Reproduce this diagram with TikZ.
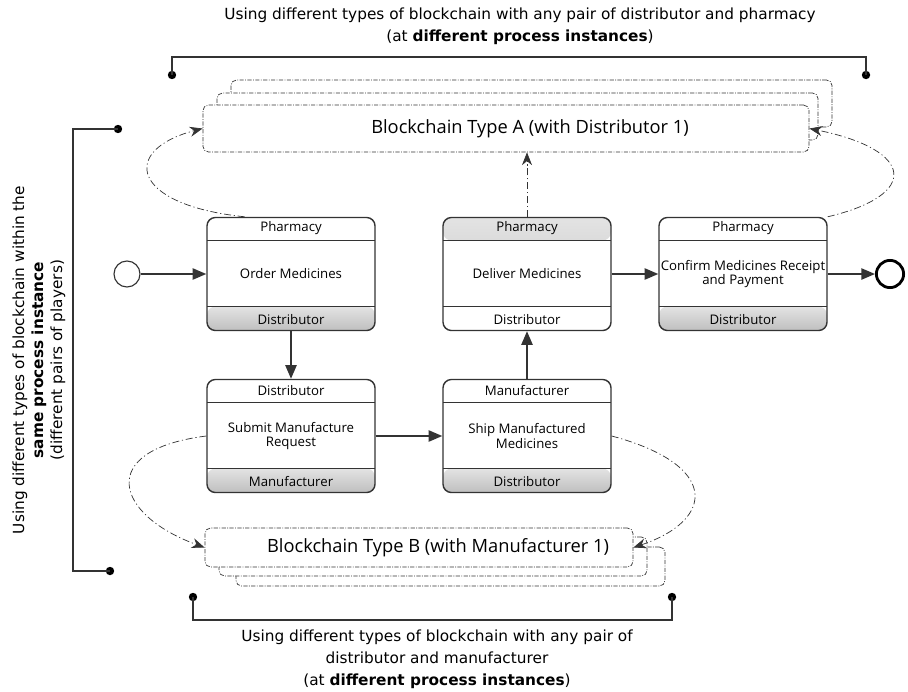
\documentclass[tikz,border=0pt]{standalone}
\usepackage{fontspec}
\setmainfont{DejaVu Sans}
\newfontfamily\taskfont{Open Sans}
\usetikzlibrary{arrows.meta,positioning}

\definecolor{ink}{HTML}{333333}
\tikzset{
	band0/.style={fill=white},
	band1/.style={top color=gray!22, bottom color=gray!50},
	task/.style 2 args={draw=ink, line width=1pt, rounded corners=6pt, fill=white,
		minimum width=4.2cm, minimum height=2.825cm, align=center, inner sep=1pt,
		font=\taskfont\fontsize{9.4}{10.5}\selectfont,
		path picture={
			\path[#1] (path picture bounding box.north west) rectangle ([yshift=-0.575cm]path picture bounding box.north east);
			\path[#2] (path picture bounding box.south west) rectangle ([yshift=0.6cm]path picture bounding box.south east);
			\draw[line width=0.8pt] ([yshift=-0.575cm]path picture bounding box.north west) -- ([yshift=-0.575cm]path picture bounding box.north east);
			\draw[line width=0.8pt] ([yshift=0.6cm]path picture bounding box.south west) -- ([yshift=0.6cm]path picture bounding box.south east);
		}},
	lane/.style={font=\taskfont\fontsize{9.4}{10.5}\selectfont, inner sep=0pt},
	flow/.style={draw=ink, line width=1.2pt, -{Triangle[length=3.4mm,width=2.8mm]}},
	link/.style={draw=ink, line width=0.5pt, dash pattern=on 5pt off 2pt on 0.8pt off 2pt, -{Stealth[length=3.2mm,width=2.5mm]}},
	chain/.style={draw=ink, line width=0.5pt, dash pattern=on 3pt off 1pt on 0.6pt off 1pt, rounded corners=4pt, fill=white},
	chaintext/.style={font=\taskfont\fontsize{13}{15}\selectfont, inner sep=0pt},
	dot/.style={circle, fill=black, inner sep=0pt, minimum size=0.21cm},
	note/.style={align=center, font=\fontsize{10.9}{15.5}\selectfont, inner sep=0pt},
	bracket/.style={draw=ink, line width=0.8pt},
}

\begin{document}
\begin{tikzpicture}[x=0.025cm, y=-0.025cm]
	\useasboundingbox (0,0) rectangle (908,691);

	% blockchain A (three copies)
	\node [chain, minimum width=15.025cm, minimum height=1.175cm] (A3) at (531.5,103.5) {};
	\node [chain, minimum width=15.025cm, minimum height=1.175cm] (A2) at (517.5,116.5) {};
	\node [chain, minimum width=15.15cm, minimum height=1.175cm] (A) at (506,128.5) {};
	\node [chaintext] (Atxt) at (530,128.5) {Blockchain Type A (with Distributor 1)};

	% blockchain B (three copies)
	\node [chain, minimum width=10.725cm, minimum height=0.975cm] (B3) at (450.5,566.5) {};
	\node [chain, minimum width=10.7cm, minimum height=0.975cm] (B2) at (433,556.5) {};
	\node [chain, minimum width=10.7cm, minimum height=0.975cm] (B) at (419,547.5) {};
	\node [chaintext] (Btxt) at (438,547.5) {Blockchain Type B (with Manufacturer 1)};

	% tasks
	\node [task={band0}{band1}] (t1) at (291,274) {Order Medicines};
	\node [task={band1}{band0}] (t2) at (527,274) {Deliver Medicines};
	\node [task={band0}{band1}] (t3) at (743,274) {Confirm Medicines Receipt\\and Payment};
	\node [task={band0}{band1}] (t4) at (291,436) {Submit Manufacture\\Request};
	\node [task={band0}{band1}] (t5) at (527,436) {Ship Manufactured\\Medicines};

	\node [lane] (t1h) at ([yshift=-8.2pt]t1.north) {Pharmacy};
	\node [lane] (t1f) at ([yshift=8.5pt]t1.south) {Distributor};
	\node [lane] (t2h) at ([yshift=-8.2pt]t2.north) {Pharmacy};
	\node [lane] (t2f) at ([yshift=8.5pt]t2.south) {Distributor};
	\node [lane] (t3h) at ([yshift=-8.2pt]t3.north) {Pharmacy};
	\node [lane] (t3f) at ([yshift=8.5pt]t3.south) {Distributor};
	\node [lane] (t4h) at ([yshift=-8.2pt]t4.north) {Distributor};
	\node [lane] (t4f) at ([yshift=8.5pt]t4.south) {Manufacturer};
	\node [lane] (t5h) at ([yshift=-8.2pt]t5.north) {Manufacturer};
	\node [lane] (t5f) at ([yshift=8.5pt]t5.south) {Distributor};

	% events
	\node [circle, draw=ink, line width=0.8pt, minimum size=0.65cm, inner sep=0pt] (start) at (127,274) {};
	\node [circle, draw=black, line width=2pt, minimum size=0.68cm, inner sep=0pt] (end) at (890,274) {};

	% sequence flow
	\draw [flow] (start) -- (t1);
	\draw [flow] (t1) -- (t4);
	\draw [flow] (t4) -- (t5);
	\draw [flow] (t5) -- (t2);
	\draw [flow] (t2) -- (t3);
	\draw [flow] (t3) -- (end);

	% links to the blockchains
	\draw [link] (t1.129) .. controls (130,205) and (120,150) .. (A.west);
	\draw [link] (t3.north east) .. controls (920,195) and (915,150) .. (A.east);
	\draw [link] (t2.north) -- (t2.north |- A.south);
	\draw [link] (t4.west) .. controls (95,450) and (115,515) .. (B.west);
	\draw [link] (t5.east) .. controls (720,465) and (715,520) .. (B.east);

	% brackets
	\node [dot] (ta) at (172,75) {};
	\node [dot] (tb) at (866,75) {};
	\draw [bracket] (ta.center) -- ++(0,-18) -| (tb.center);
	\node [note] (topnote) at (520,26) {Using different types of blockchain with any pair of distributor and pharmacy\\(at \textbf{different process instances})};

	\node [dot] (la) at (118,129) {};
	\node [dot] (lb) at (110,571) {};
	\draw [bracket] (la.center) -- ++(-45,0) |- (lb.center);
	\node [note, rotate=90, font=\fontsize{10.9}{13.5}\selectfont] (leftnote) at (39,360) {Using different types of blockchain within the\\\textbf{same process instance}\\(different pairs of players)};

	\node [dot] (ba) at (193,597) {};
	\node [dot] (bb) at (672,597) {};
	\draw [bracket] (ba.center) -- ++(0,23) -| (bb.center);
	\node [note] (botnote) at (437,659) {Using different types of blockchain with any pair of\\distributor and manufacturer\\(at \textbf{different process instances})};
\end{tikzpicture}
\end{document}
